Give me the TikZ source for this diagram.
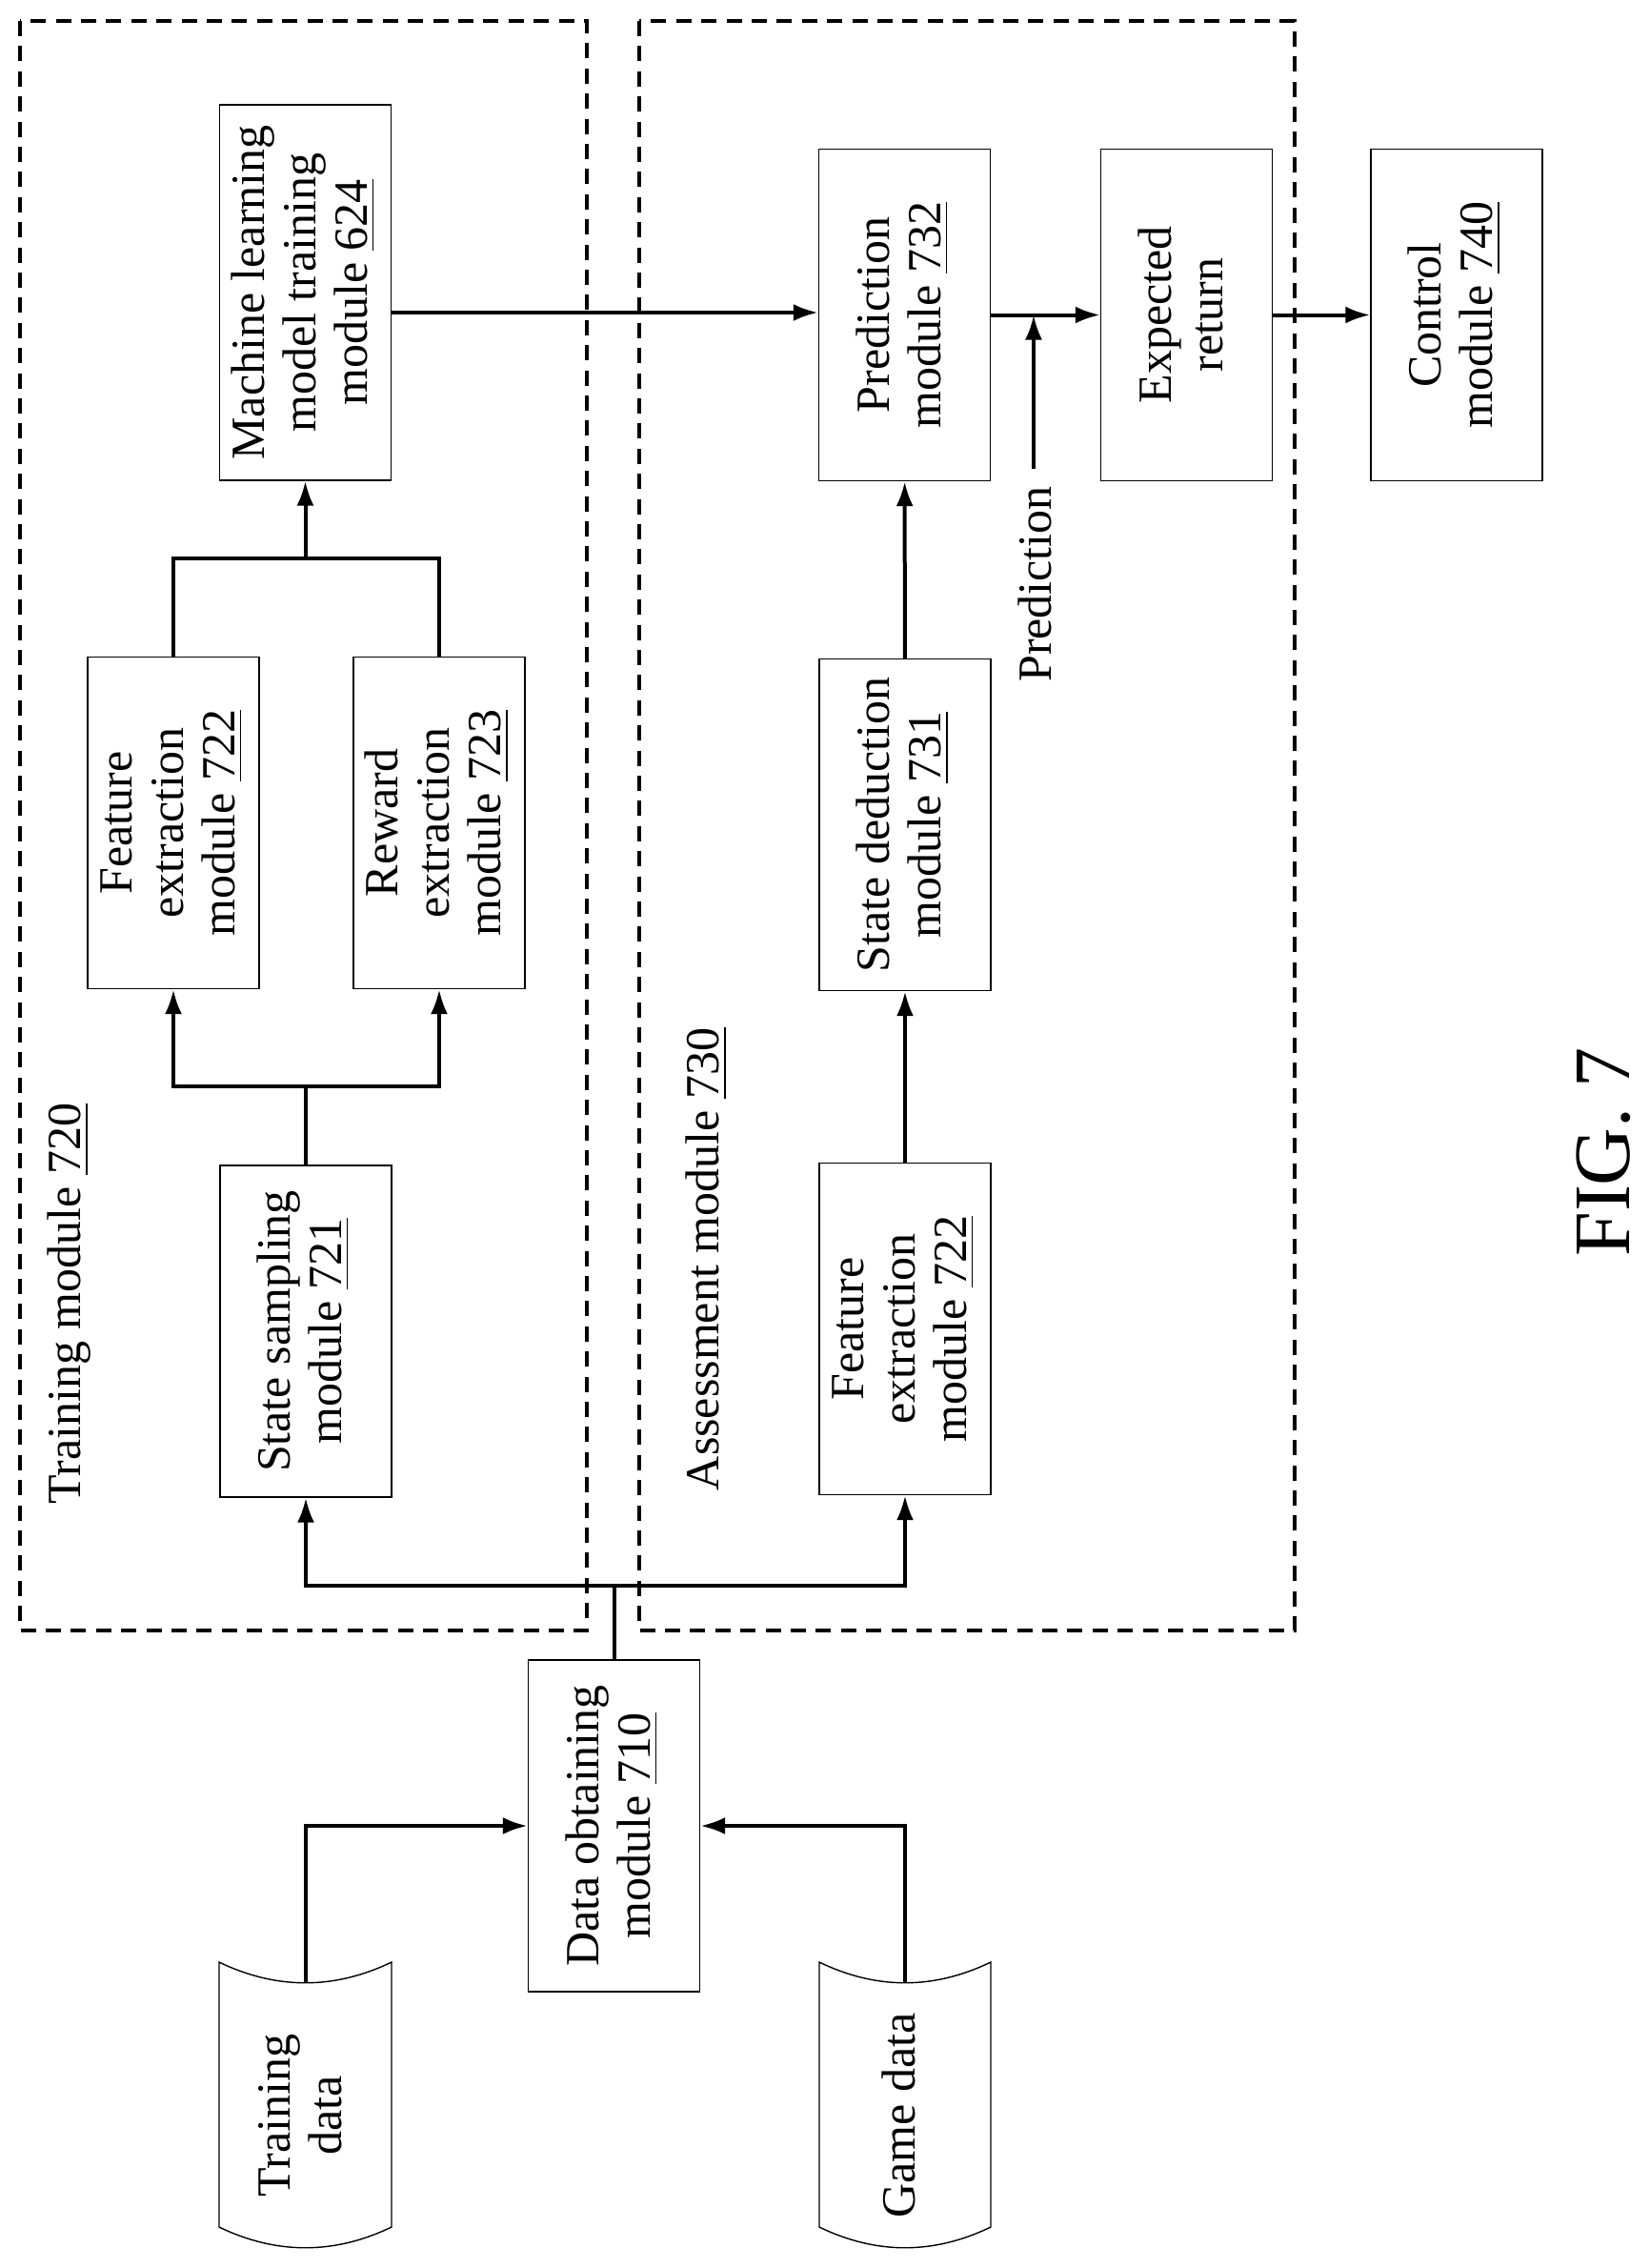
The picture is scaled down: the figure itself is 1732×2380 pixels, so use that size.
\documentclass[tikz,border=0pt]{standalone}
\usepackage{fontspec}
\setmainfont{Liberation Serif}
\usetikzlibrary{arrows.meta, positioning}

\newcommand{\vtext}[1]{\rotatebox{90}{\begin{tabular}{@{}c@{}}#1\end{tabular}}}

\tikzset{
    module/.style={draw, line width=0.35pt, minimum width=45pt, minimum height=87pt, inner sep=0pt, font=\fontsize{12.5}{13.5}\selectfont},
    group/.style={draw, line width=1pt, dash pattern=on 4pt off 2.6pt},
    link/.style={line width=1pt},
    flow/.style={link, -{Latex[length=6.5pt, width=4.5pt]}},
    tape/.style={draw, line width=0.35pt},
    label/.style={inner sep=0pt, font=\fontsize{12.5}{13.5}\selectfont}
}

\begin{document}
\begin{tikzpicture}[x=0.25pt, y=-0.25pt]
    \useasboundingbox (0,0) rectangle (1732,2380);

    % Groups
    \draw[group] (21,22) rectangle (616,1711);
    \draw[group] (671,22) rectangle (1359,1711);
    \node[label] (trainlbl) at (74,1368) {\vtext{Training module \underline{720}}};
    \node[label] (assesslbl) at (744,1321) {\vtext{Assessment module \underline{730}}};

    % Training module
    \node[module, minimum height=98.5pt] (mltrain) at (320.5,307) {\vtext{Machine learning\\model training\\module \underline{624}}};
    \node[module] (featA) at (182,863.5) {\vtext{Feature\\extraction\\module \underline{722}}};
    \node[module] (reward) at (461,863.5) {\vtext{Reward\\extraction\\module \underline{723}}};
    \node[module] (sampling) at (321,1397) {\vtext{State sampling\\module \underline{721}}};

    % Assessment module
    \node[module] (predict) at (949.5,330.5) {\vtext{Prediction\\module \underline{732}}};
    \node[module] (expret) at (1245.5,330.5) {\vtext{Expected\\return}};
    \node[module] (deduce) at (950,865.5) {\vtext{State deduction\\module \underline{731}}};
    \node[module] (featB) at (950,1394.5) {\vtext{Feature\\extraction\\module \underline{722}}};
    \node[module] (control) at (1529,330.5) {\vtext{Control\\module \underline{740}}};

    % Data
    \node[module] (obtain) at (644.5,1916) {\vtext{Data obtaining\\module \underline{710}}};
    \draw[tape] (230,2059) .. controls (290,2088) and (351,2088) .. (411,2059) -- (411,2337)
        .. controls (351,2366) and (290,2366) .. (230,2337) -- cycle;
    \draw[tape] (860,2059) .. controls (920,2088) and (980,2088) .. (1040,2059) -- (1040,2337)
        .. controls (980,2366) and (920,2366) .. (860,2337) -- cycle;
    \coordinate (traintop) at (321,2081);
    \coordinate (gametop) at (950,2081);
    \node[label] (traindata) at (321,2220) {\vtext{Training\\data}};
    \node[label] (gamedata) at (950,2220) {\vtext{Game data}};

    % Connectors
    \draw[flow] (traintop) |- (obtain.west);
    \draw[flow] (gametop) |- (obtain.east);
    \coordinate (bus) at (644.5,1664);
    \draw[link] (obtain.north) -- (bus);
    \draw[flow] (bus) -| (sampling.south);
    \draw[flow] (bus) -| (featB.south);

    \coordinate (forkA) at (321,1140);
    \draw[link] (sampling.north) -- (forkA);
    \draw[flow] (forkA) -| (featA.south);
    \draw[flow] (forkA) -| (reward.south);

    \coordinate (joinA) at (320.5,586);
    \draw[link] (featA.north) |- (joinA) -| (reward.north);
    \draw[flow] (joinA) -- (mltrain.south);

    \draw[flow] (featB) -- (deduce);
    \draw[flow] (deduce) -- (predict);
    \draw[flow] (mltrain.east |- 0,328) -- (predict.west |- 0,328);
    \draw[flow] (predict) -- (expret);
    \coordinate (predtail) at (1085,492);
    \draw[flow] (predtail) -- (predtail |- predict.east);
    \node[label] (predlbl) at (1093,613) {\vtext{Prediction}};
    \draw[flow] (expret) -- (control);

    \node[inner sep=0pt, font=\fontsize{21}{24}\selectfont] (fig) at (1683,1209) {\rotatebox{90}{FIG. 7}};
\end{tikzpicture}
\end{document}
